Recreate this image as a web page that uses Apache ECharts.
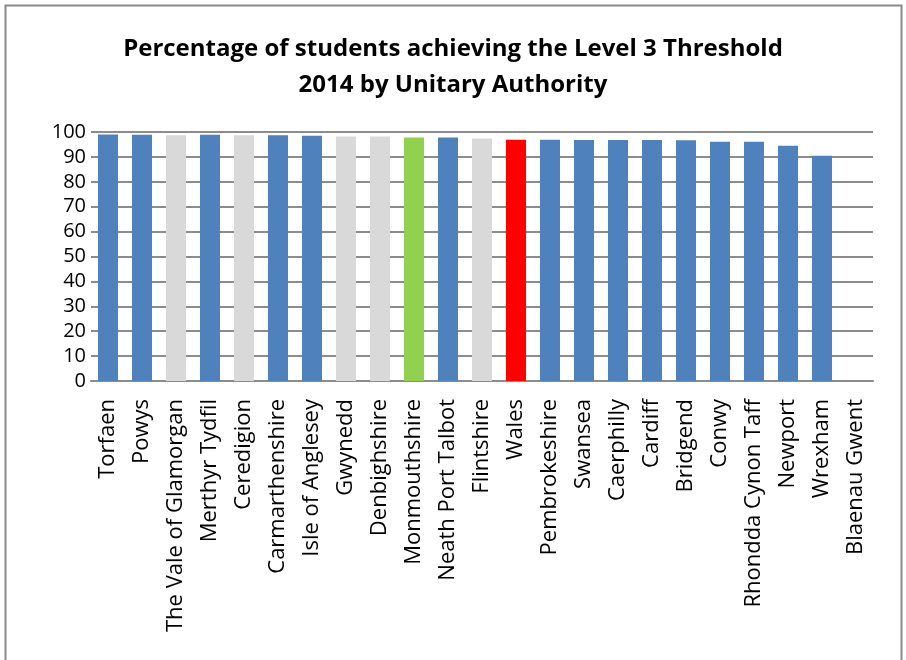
<!DOCTYPE html>
<html>
<head>
<meta charset="utf-8">
<script src="https://cdn.jsdelivr.net/npm/echarts@6/dist/echarts.min.js"></script>
<style>
  html, body { margin: 0; padding: 0; background: #fff; }
  #chart { width: 906px; height: 660px; }
</style>
</head>
<body>
<div id="chart"></div>
<script>
let authorities = ["Torfaen", "Powys", "The Vale of Glamorgan", "Merthyr Tydfil", "Ceredigion",
  "Carmarthenshire", "Isle of Anglesey", "Gwynedd", "Denbighshire", "Monmouthshire",
  "Neath Port Talbot", "Flintshire", "Wales", "Pembrokeshire", "Swansea", "Caerphilly",
  "Cardiff", "Bridgend", "Conwy", "Rhondda Cynon Taff", "Newport", "Wrexham", "Blaenau Gwent"];
let percent = [99.0, 98.9, 98.7, 98.9, 98.7, 98.7, 98.5, 98.2, 98.2, 97.8, 97.8, 97.4,
  96.9, 96.9, 96.8, 96.8, 96.8, 96.7, 96.1, 96.1, 94.5, 90.5, 0];
// colour group per bar: b = blue, g = grey, m = Monmouthshire green, w = Wales red
let groups = ["b", "b", "g", "b", "g", "b", "b", "g", "g", "m", "b", "g", "w",
  "b", "b", "b", "b", "b", "b", "b", "b", "b", "b"];
let yTicks = [0, 10, 20, 30, 40, 50, 60, 70, 80, 90, 100];

let groupColor = { b: "#4F81BD", g: "#D9D9D9", m: "#92D050", w: "#FF0000" };

let option = {
  animation: false,
  backgroundColor: "#fff",
  title: {
    text: "Percentage of students achieving the Level 3 Threshold\n2014 by Unitary Authority",
    left: "center",
    top: 26,
    textStyle: {
      fontFamily: "Open Sans",
      fontWeight: "bold",
      fontSize: 24,
      lineHeight: 36,
      color: "#000"
    }
  },
  graphic: [
    {
      type: "rect",
      shape: { x: 5.5, y: 5.5, width: 896, height: 670 },
      style: { fill: "none", stroke: "#8a8a8a", lineWidth: 2 }
    }
  ],
  grid: {
    left: 91,
    right: 33,
    top: 132,
    bottom: 279
  },
  xAxis: {
    type: "category",
    data: authorities,
    axisLine: { lineStyle: { color: "#8c8c8c", width: 2 } },
    axisTick: { show: false },
    axisLabel: {
      rotate: 90,
      interval: 0,
      margin: 18,
      fontFamily: "Open Sans",
      fontSize: 22,
      color: "#000"
    }
  },
  yAxis: {
    type: "value",
    min: yTicks[0],
    max: yTicks[yTicks.length - 1],
    interval: 10,
    axisLine: { show: false },
    axisTick: { show: false },
    splitLine: { lineStyle: { color: "#8c8c8c", width: 2 } },
    axisLabel: {
      margin: 5,
      fontFamily: "Open Sans",
      fontSize: 20,
      color: "#000"
    }
  },
  series: [
    {
      type: "bar",
      barCategoryGap: "41%",
      data: percent.map(function (v, i) {
        return {
          value: v,
          itemStyle: { color: groupColor[groups[i]] }
        };
      })
    }
  ]
};

let chart = echarts.init(document.getElementById("chart"));
chart.setOption(option);
</script>
</body>
</html>
